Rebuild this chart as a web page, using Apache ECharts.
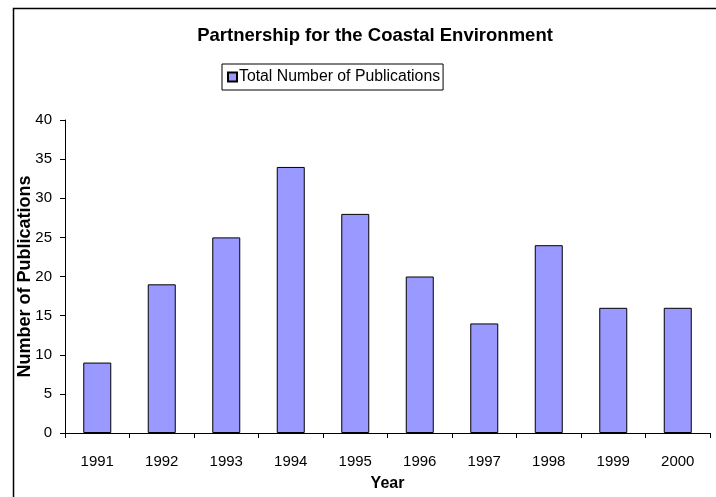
<!DOCTYPE html>
<html>
<head>
<meta charset="utf-8">
<script src="https://cdn.jsdelivr.net/npm/echarts@6/dist/echarts.min.js"></script>
<style>
html,body{margin:0;padding:0;background:#fff;}
#chart{width:716px;height:497px;}
</style>
</head>
<body>
<div id="chart"></div>
<script>
var categories = ['1991','1992','1993','1994','1995','1996','1997','1998','1999','2000'];
var publications = [9, 19, 25, 34, 28, 20, 14, 24, 16, 16];
var seriesName = 'Total Number of Publications';

var chart = echarts.init(document.getElementById('chart'), null, {renderer: 'canvas'});
var font = 'Liberation Sans, Arial, sans-serif';
chart.setOption({
  backgroundColor: '#fff',
  animation: false,
  graphic: [{
    type: 'rect', left: 11, top: 6,
    shape: {width: 720, height: 500},
    style: {fill: 'none', stroke: '#000', lineWidth: 1.5},
    z: -1
  }],
  title: {
    text: 'Partnership for the Coastal Environment',
    left: 370, top: 21, textAlign: 'center',
    textStyle: {fontFamily: font, fontSize: 18.5, fontWeight: 'bold', color: '#000'}
  },
  legend: {
    data: [seriesName],
    left: 222, top: 64,
    icon: 'rect', itemWidth: 9, itemHeight: 9, itemGap: 4,
    borderColor: '#000', borderWidth: 1, padding: [5, 3, 5, 5],
    textStyle: {fontFamily: font, fontSize: 15.8, color: '#000', padding: [0,0,0,-3]}
  },
  grid: {left: 65, right: 6, top: 120, bottom: 63, containLabel: false},
  xAxis: {
    type: 'category', data: categories,
    name: 'Year', nameLocation: 'middle', nameGap: 43,
    nameTextStyle: {fontFamily: font, fontSize: 16, fontWeight: 'bold', color: '#000'},
    axisLine: {lineStyle: {color: '#000', width: 1}},
    axisTick: {show: true, alignWithLabel: false, length: 5, lineStyle: {color: '#000'}},
    axisLabel: {fontFamily: font, fontSize: 15, color: '#000', margin: 21}
  },
  yAxis: {
    type: 'value', min: 0, max: 40, interval: 5,
    name: 'Number of Publications', nameLocation: 'middle', nameGap: 31,
    nameMoveOverlap: false,
    nameTextStyle: {fontFamily: font, fontSize: 18, fontWeight: 'bold', color: '#000'},
    axisLine: {show: true, lineStyle: {color: '#000', width: 1}},
    axisTick: {show: true, length: 5, lineStyle: {color: '#000'}},
    axisLabel: {fontFamily: font, fontSize: 15, color: '#000', margin: 13},
    splitLine: {show: false}
  },
  series: [{
    name: seriesName, type: 'bar', data: publications,
    barWidth: 28,
    itemStyle: {color: '#9999FF', borderColor: '#000', borderWidth: 1}
  }]
});
</script>
</body>
</html>
